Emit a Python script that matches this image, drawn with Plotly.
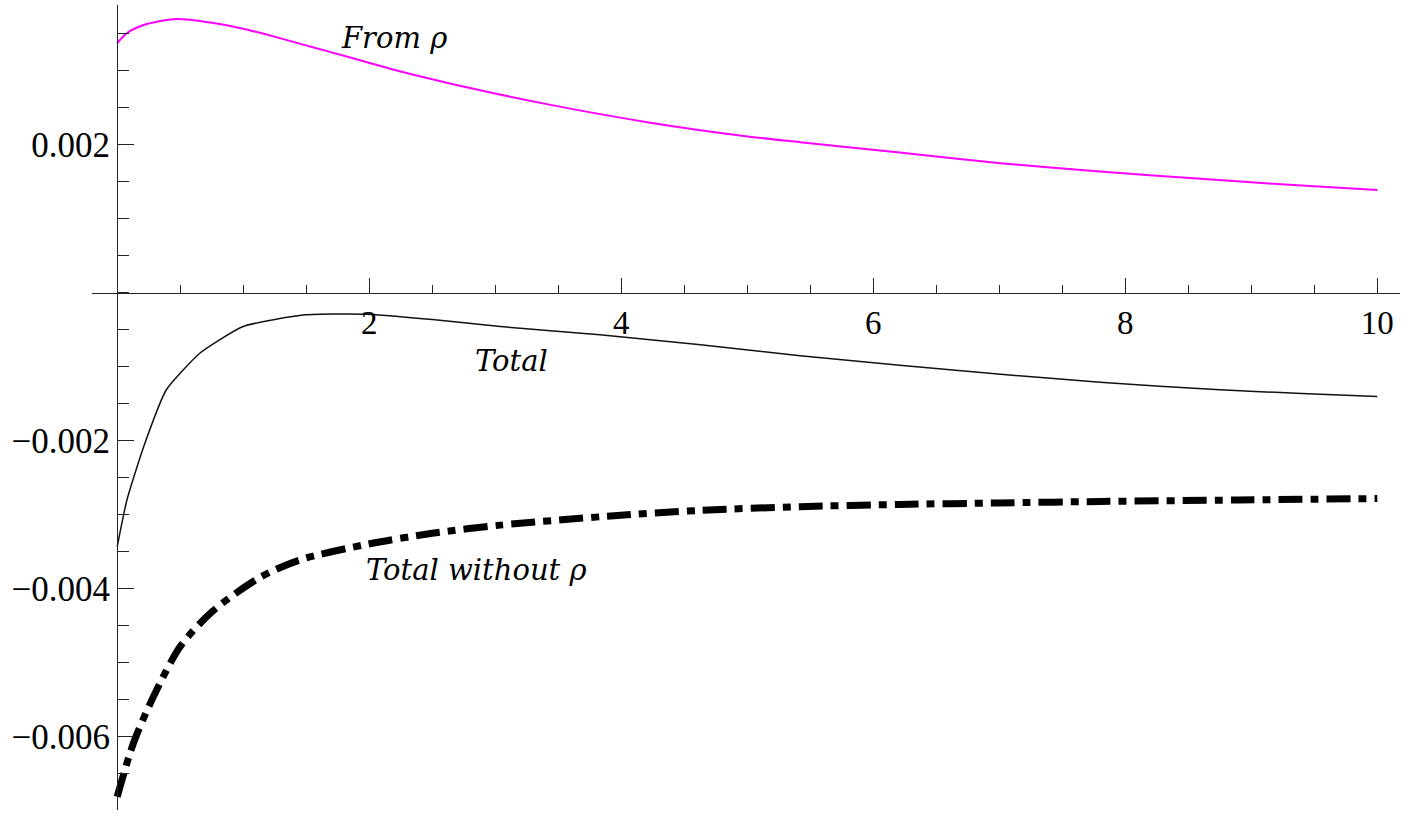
import plotly.graph_objects as go

# curve "From rho" (magenta)
rho_x = [0, 0.077, 0.21, 0.47, 0.74, 1.0, 1.53, 1.85, 2.25, 2.64, 3.44, 4.23, 5.02, 5.42, 6.21, 7.01, 7.8, 8.6, 9.3, 10]
rho_y = [0.003374, 0.00351, 0.00362, 0.00370, 0.003653, 0.00357, 0.00333, 0.00318, 0.00299, 0.00283, 0.00254,
         0.00230, 0.00211, 0.002036, 0.001896, 0.001752, 0.001639, 0.00154, 0.00146, 0.00139]

# curve "Total" (thin black)
total_x = [0, 0.077, 0.21, 0.39, 0.66, 1.0, 1.49, 1.98, 2.5, 3.04, 3.83, 4.63, 5.42, 6.21, 7.01, 7.8, 8.75, 9.4, 10]
total_y = [-0.00343, -0.00280, -0.00208, -0.00131, -0.00081, -0.000455, -0.000297, -0.000288, -0.00036,
           -0.000455, -0.000568, -0.000703, -0.00085, -0.00098, -0.00110, -0.00121, -0.00131, -0.00136, -0.00140]

# curve "Total without rho" (thick dash-dot)
norho_x = [0, 0.13, 0.29, 0.5, 0.76, 1.13, 1.45, 1.98, 2.5, 3.04, 3.89, 4.63, 5.42, 6.21, 7.0, 7.8, 8.9, 10]
norho_y = [-0.00681, -0.00608, -0.00545, -0.00478, -0.00430, -0.00385, -0.00361, -0.00340, -0.00325, -0.00314,
           -0.00302, -0.00294, -0.00289, -0.00286, -0.00284, -0.00282, -0.00280, -0.00278]

x_ticks = [2, 4, 6, 8, 10]
y_ticks = [-0.006, -0.004, -0.002, 0.002]
y_tick_text = ["\u22120.006", "\u22120.004", "\u22120.002", "0.002"]

labels = [
    (2.2, 0.00345, "From \u03c1"),
    (3.13, -0.00092, "Total"),
    (2.85, -0.00375, "Total without \u03c1"),
]

X_RANGE = [-0.2, 10.18]
Y_RANGE = [-0.00699, 0.00389]

fig = go.Figure()
fig.add_trace(go.Scatter(x=rho_x, y=rho_y, mode="lines",
                         line=dict(color="#ff00ff", width=2, shape="spline", smoothing=0.8)))
fig.add_trace(go.Scatter(x=total_x, y=total_y, mode="lines",
                         line=dict(color="#111111", width=1.5, shape="spline", smoothing=0.5)))
fig.add_trace(go.Scatter(x=norho_x, y=norho_y, mode="lines",
                         line=dict(color="black", width=7, dash="24px,8px,8px,8px", shape="spline", smoothing=0.8)))

for ax, ay, txt in labels:
    fig.add_annotation(x=ax, y=ay, text=txt, showarrow=False,
                       font=dict(family="DejaVu Serif", size=29, color="black", style="italic"))

# axes cross at the origin
x_pos = (0 - Y_RANGE[0]) / (Y_RANGE[1] - Y_RANGE[0])
y_pos = (0 - X_RANGE[0]) / (X_RANGE[1] - X_RANGE[0])

fig.update_layout(
    width=1418, height=831,
    margin=dict(l=92, r=18, t=5, b=21),
    paper_bgcolor="white", plot_bgcolor="white",
    showlegend=False,
    xaxis=dict(range=X_RANGE, domain=[0, 1], anchor="free", position=x_pos,
               showgrid=False, zeroline=False, showline=True, linecolor="#222", linewidth=1.3,
               tickmode="array", tickvals=x_ticks, ticks="inside", ticklen=15, tickwidth=1.2, tickcolor="#222",
               minor=dict(tickmode="linear", tick0=0, dtick=0.5, ticks="inside", ticklen=8, tickwidth=1, tickcolor="#222"),
               tickfont=dict(family="Liberation Serif", size=33, color="black")),
    yaxis=dict(range=Y_RANGE, domain=[0, 1], anchor="free", position=y_pos,
               showgrid=False, zeroline=False, showline=True, linecolor="#222", linewidth=1.3,
               tickmode="array", tickvals=y_ticks, ticktext=y_tick_text, ticks="inside", ticklen=16,
               tickwidth=1.2, tickcolor="#222",
               minor=dict(tickmode="linear", tick0=0, dtick=0.0005, ticks="inside", ticklen=11, tickwidth=1, tickcolor="#222"),
               tickfont=dict(family="Liberation Serif", size=35, color="black")),
)

fig.write_html("out.html", config={"displayModeBar": False},
               post_script="document.body.style.margin='0';")
